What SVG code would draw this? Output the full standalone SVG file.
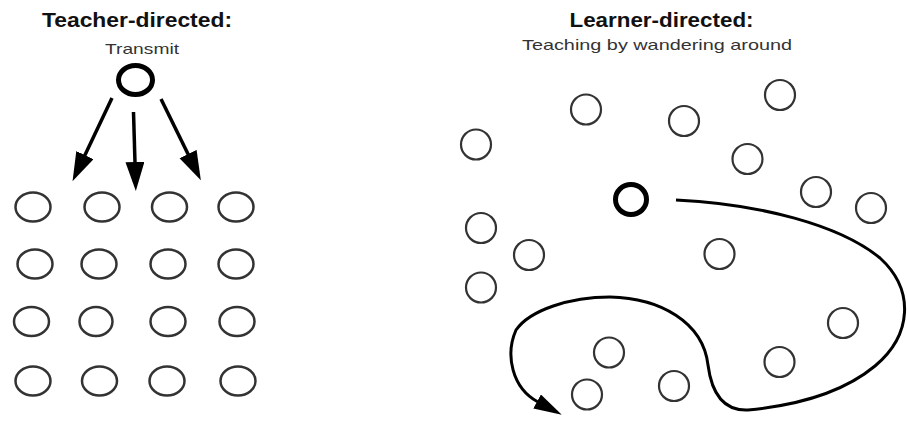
<svg xmlns="http://www.w3.org/2000/svg" width="907" height="421" viewBox="0 0 907 421">
<style>
.title{font-family:"Liberation Sans",Arial,sans-serif;font-weight:bold;font-size:20px;fill:#111;text-anchor:middle}
.sub{font-family:"Liberation Sans",Arial,sans-serif;font-size:15px;fill:#333;text-anchor:middle}
.stu{fill:none;stroke:#333;stroke-width:2.5}
.stur{fill:none;stroke:#333;stroke-width:2.2}
.tch{fill:none;stroke:#000;stroke-width:5}
.arr{fill:none;stroke:#000;stroke-width:3.5}
.wander{fill:none;stroke:#000;stroke-width:3}
</style>
<defs>
<marker id="head" markerUnits="userSpaceOnUse" markerWidth="32" markerHeight="22" refX="1" refY="9.5" orient="auto">
<path d="M0,0 L29,9.5 L0,19 Z" fill="#000"/>
</marker>
<marker id="head2" markerUnits="userSpaceOnUse" markerWidth="32" markerHeight="20" refX="1" refY="8" orient="auto">
<path d="M0,0 L28,8 L0,16 Z" fill="#000"/>
</marker>
</defs>
<g id="labels">
<text class="title" x="137" y="27" textLength="190" lengthAdjust="spacingAndGlyphs">Teacher-directed:</text>
<text class="sub" x="142" y="54" textLength="74" lengthAdjust="spacingAndGlyphs">Transmit</text>
<text class="title" x="661.5" y="27" textLength="184" lengthAdjust="spacingAndGlyphs">Learner-directed:</text>
<text class="sub" x="657" y="50" font-size="16" textLength="270" lengthAdjust="spacingAndGlyphs">Teaching by wandering around</text>
</g>
<g id="teacher-left"><ellipse class="tch" cx="135.5" cy="80" rx="17" ry="14.5"/></g>
<g id="students-left">
<ellipse class="stu" cx="33" cy="207" rx="17.5" ry="14.5"/>
<ellipse class="stu" cx="102" cy="207" rx="17.5" ry="14.5"/>
<ellipse class="stu" cx="169.5" cy="207" rx="17.5" ry="14.5"/>
<ellipse class="stu" cx="236" cy="207" rx="17.5" ry="14.5"/>
<ellipse class="stu" cx="35" cy="264" rx="17.5" ry="14.5"/>
<ellipse class="stu" cx="99" cy="264" rx="17.5" ry="14.5"/>
<ellipse class="stu" cx="168" cy="264" rx="17.5" ry="14.5"/>
<ellipse class="stu" cx="236" cy="264" rx="17.5" ry="14.5"/>
<ellipse class="stu" cx="31.5" cy="321.5" rx="17.5" ry="14.5"/>
<ellipse class="stu" cx="96" cy="321.5" rx="16.5" ry="14.5"/>
<ellipse class="stu" cx="168" cy="321.5" rx="17.5" ry="14.5"/>
<ellipse class="stu" cx="237" cy="321.5" rx="17.5" ry="14.5"/>
<ellipse class="stu" cx="33" cy="381" rx="17.5" ry="14.5"/>
<ellipse class="stu" cx="99.5" cy="381" rx="17.5" ry="14.5"/>
<ellipse class="stu" cx="167" cy="381" rx="17.5" ry="14.5"/>
<ellipse class="stu" cx="238" cy="381" rx="17.5" ry="14.5"/>
</g>
<g id="teacher-right"><ellipse class="tch" cx="631" cy="199.5" rx="15.5" ry="15"/></g>
<g id="students-right">
<circle class="stur" cx="586" cy="109.5" r="15"/>
<circle class="stur" cx="684" cy="121" r="15"/>
<circle class="stur" cx="780" cy="95" r="15"/>
<circle class="stur" cx="476" cy="144.5" r="15"/>
<circle class="stur" cx="747.5" cy="159" r="15"/>
<circle class="stur" cx="816" cy="192" r="15"/>
<circle class="stur" cx="871" cy="208" r="15"/>
<circle class="stur" cx="481" cy="228" r="15"/>
<circle class="stur" cx="529" cy="255" r="15"/>
<circle class="stur" cx="481" cy="287.5" r="15"/>
<circle class="stur" cx="719.5" cy="254" r="15"/>
<circle class="stur" cx="843" cy="323" r="15"/>
<circle class="stur" cx="779.5" cy="362" r="15"/>
<circle class="stur" cx="609" cy="352.5" r="15"/>
<circle class="stur" cx="674" cy="386" r="15"/>
<circle class="stur" cx="587" cy="394.5" r="15"/>
</g>
<g id="connectors">
<line class="arr" x1="112" y1="98" x2="84.5" y2="156" marker-end="url(#head)"/>
<line class="arr" x1="133.5" y1="112" x2="135" y2="163" marker-end="url(#head)"/>
<line class="arr" x1="161" y1="99" x2="188.5" y2="155" marker-end="url(#head)"/>
<path class="wander" d="M676 200 C760 204 840 225 880 258 C915 290 912 335 875 366 C840 395 790 406 748 410 C725 411 712 396 708 365 C703 322 660 298 610 297 C570 297 530 310 516 330 C505 355 512 388 538 402" marker-end="url(#head2)"/>
</g>
</svg>
